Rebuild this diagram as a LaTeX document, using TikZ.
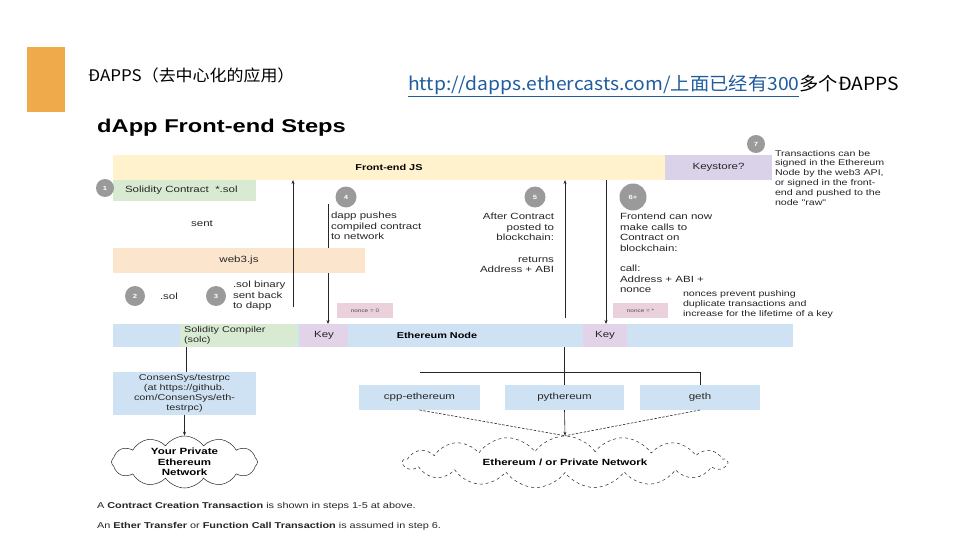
\documentclass[tikz,border=0pt]{standalone}
\usepackage{fontspec}
\setmainfont{Liberation Sans}
\newfontfamily\dfont{Liberation Sans}[FakeStretch=1.28]
\newfontfamily\cjk{Noto Sans CJK SC}[FakeStretch=1.06]
\usetikzlibrary{shapes.symbols,arrows.meta}
\definecolor{tabor}{HTML}{EFAA4B}
\definecolor{urlblue}{HTML}{1F5C9E}
\definecolor{feyel}{HTML}{FFF2CC}
\definecolor{kslil}{HTML}{D9D2E9}
\definecolor{solgr}{HTML}{D9EAD3}
\definecolor{w3or}{HTML}{FCE5CD}
\definecolor{nodebl}{HTML}{CFE2F3}
\definecolor{keyli}{HTML}{E3D3E9}
\definecolor{noncep}{HTML}{EAD1DC}
\definecolor{stepgr}{HTML}{9A9A9A}
\tikzset{
  bar/.style={anchor=north west, inner sep=0, outer sep=0},
  txt/.style={inner sep=0, outer sep=0, font=\dfont\fontsize{9}{10.5}\selectfont, text=black!85},
  smalltxt/.style={inner sep=0, outer sep=0, font=\dfont\fontsize{8.3}{9.8}\selectfont, text=black!85, align=left},
  boldtxt/.style={inner sep=0, outer sep=0, font=\dfont\bfseries\fontsize{8.5}{10.5}\selectfont, text=black},
  stepc/.style={circle, fill=stepgr, inner sep=0, text=white, font=\dfont\bfseries\fontsize{6}{6}\selectfont},
  tinytxt/.style={font=\dfont\fontsize{5}{6}\selectfont, text=black!70},
  conn/.style={draw=black!85, line width=0.6pt},
  arr/.style={conn, -{Stealth[length=4pt,width=3pt]}},
  dconn/.style={conn, dash pattern=on 2.5pt off 1.5pt},
  cloudn/.style={cloud, draw=black!85, line width=0.5pt, cloud puffs=12, cloud puff arc=110, cloud ignores aspect, inner sep=0, align=center, font=\dfont\bfseries\fontsize{9}{10.5}\selectfont}
}
\begin{document}
\begin{tikzpicture}[x=1pt,y=-1pt]
\useasboundingbox (0,0) rectangle (960,540);
\fill[white] (0,0) rectangle (960,540);

% header
\node[bar, fill=tabor, minimum width=38, minimum height=65] (tab) at (27,47) {};
\node[anchor=west, inner sep=0, font=\cjk\fontsize{16}{18}\selectfont] (title) at (88,75) {ĐAPPS（去中心化的应用）};
\node[anchor=west, inner sep=0, font=\cjk\fontsize{18.2}{20}\selectfont] (url) at (408,86) {\textcolor{urlblue}{\underline{http://dapps.ethercasts.com/上面已经有300}}多个ĐAPPS};

% diagram title
\node[anchor=west, inner sep=0, font=\dfont\bfseries\fontsize{18.5}{21}\selectfont] (dtitle) at (97,128) {dApp Front-end Steps};

% connector coordinates
\coordinate (s4top) at (328,204);
\coordinate (a1) at (293,307);
\coordinate (a5) at (565,318);
\coordinate (a6) at (606,180);
\coordinate (hl) at (0,372);

% bars
\node[bar, fill=feyel, minimum width=552, minimum height=25] (fejs) at (113,155) {};
\node[boldtxt] (fejst) at (fejs.center) {Front-end JS};
\node[bar, fill=kslil, minimum width=107, minimum height=25] (ks) at (665,155) {};
\node[txt] (kst) at (ks.center) {Keystore?};
\node[bar, fill=solgr, minimum width=143, minimum height=21] (solc1) at (113,180) {};
\node[txt, anchor=west] (solct) at (125,190.5) {Solidity Contract\ \ *.sol};

\node[bar, fill=nodebl, minimum width=680, minimum height=23] (enode) at (113,324) {};
\node[boldtxt] (enodet) at (437,335.5) {Ethereum Node};
\node[bar, fill=solgr, minimum width=118, minimum height=23] (solc) at (180,324) {};
\node[txt, anchor=west, align=left, font=\dfont\fontsize{8.5}{9.5}\selectfont] (solcct) at (184,335.5) {Solidity Compiler\\(solc)};
\node[bar, fill=keyli, minimum width=48, minimum height=23] (key1) at (300,324) {};
\node[txt] (key1t) at (key1.center) {Key};
\node[bar, fill=keyli, minimum width=44, minimum height=23] (key2) at (583,324) {};
\node[txt] (key2t) at (key2.center) {Key};

% step 4 arrow (behind web3 bar)
\draw[arr] (s4top) -- (s4top |- key1.north);

\node[bar, fill=w3or, minimum width=252, minimum height=25] (web3) at (113,248) {};
\node[txt] (web3t) at (web3.center) {web3.js};

% nonce boxes
\node[bar, fill=noncep, minimum width=56, minimum height=15] (n0) at (337,303) {};
\node[tinytxt] (n0t) at (n0.center) {nonce = 0};
\node[bar, fill=noncep, minimum width=55, minimum height=15] (n1) at (613,303) {};
\node[tinytxt] (n1t) at (n1.center) {nonce = *};

% step circles
\node[stepc, minimum size=18] (c1) at (105,188) {1};
\node[stepc, minimum size=20] (c2) at (135,296) {2};
\node[stepc, minimum size=20] (c3) at (216,296) {3};
\node[stepc, minimum size=21] (c4) at (346,197) {4};
\node[stepc, minimum size=21] (c5) at (535,197) {5};
\node[stepc, minimum size=27] (c6) at (633,197) {6+};
\node[stepc, minimum size=18] (c7) at (756,144) {7};

% texts
\node[txt] (sent) at (202,224) {sent};
\node[txt, anchor=north west, align=left] (t4) at (331,212) {dapp pushes\\compiled contract\\to network};
\node[txt, anchor=north east, align=right] (t5) at (554,213) {After Contract\\posted to\\blockchain:\\[11pt]returns\\Address + ABI};
\node[txt, anchor=north west, align=left] (t6) at (620,213) {Frontend can now\\make calls to\\Contract on\\blockchain:\\[10pt]call:\\Address + ABI +\\nonce};
\node[txt, anchor=west] (sol2) at (160,296) {.sol};
\node[txt, anchor=north west, align=left] (t3) at (233,281) {.sol binary\\sent back\\to dapp};
\node[smalltxt, anchor=north west] (t7) at (775,150) {Transactions can be\\signed in the Ethereum\\Node by the web3 API,\\or signed in the front-\\end and pushed to the\\node "raw"};
\node[smalltxt, anchor=north west, font=\dfont\fontsize{8.3}{10}\selectfont] (tn) at (683,290) {nonces prevent pushing\\duplicate transactions and\\increase for the lifetime of a key};

% arrows
\draw[arr] (a1) -- (a1 |- fejs.south);
\draw[arr] (a5) -- (a5 |- fejs.south);
\draw[arr] (a6) -- (a6 |- key2.north);

% lower part
\node[bar, fill=nodebl, minimum width=143, minimum height=43] (trpc) at (113,372) {};
\node[txt, align=center, font=\dfont\fontsize{8.5}{10}\selectfont] (trpct) at (trpc.center) {ConsenSys/testrpc\\(at https://github.\\com/ConsenSys/eth-\\testrpc)};
\node[bar, fill=nodebl, minimum width=121, minimum height=25] (cpp) at (359,385) {};
\node[txt] (cppt) at (cpp.center) {cpp-ethereum};
\node[bar, fill=nodebl, minimum width=119, minimum height=25] (pyth) at (505,385) {};
\node[txt] (pytht) at (pyth.center) {pythereum};
\node[bar, fill=nodebl, minimum width=120, minimum height=25] (geth) at (640,385) {};
\node[txt] (getht) at (geth.center) {geth};

\node[cloudn, minimum width=146, minimum height=52] (cloudA) at (184.5,462) {Your Private\\Ethereum\\Network};
\node[cloudn, dashed, minimum width=324, minimum height=52, cloud puffs=17] (cloudB) at (565,462) {Ethereum / or Private Network};

\draw[conn] (trpc.north -| 186,0) -- (solc.south -| 186,0);
\draw[arr] (trpc.south) -- (cloudA.north);
\draw[conn] (pyth.north |- enode.south) -- (pyth.north);
\draw[conn] (cpp.north |- hl) -- (geth.north |- hl) -- (geth.north);
\draw[dconn] (cpp.south) -- (cloudB.north);
\draw[arr] (pyth.south) -- (cloudB.north);
\draw[dconn] (geth.south) -- (cloudB.north);

% footnotes
\node[txt, anchor=west, font=\dfont\fontsize{8.5}{10}\selectfont] (f1) at (97,506) {A \textbf{Contract Creation Transaction} is shown in steps 1-5 at above.};
\node[txt, anchor=west, font=\dfont\fontsize{8.5}{10}\selectfont] (f2) at (97,526) {An \textbf{Ether Transfer} or \textbf{Function Call Transaction} is assumed in step 6.};
\end{tikzpicture}
\end{document}
